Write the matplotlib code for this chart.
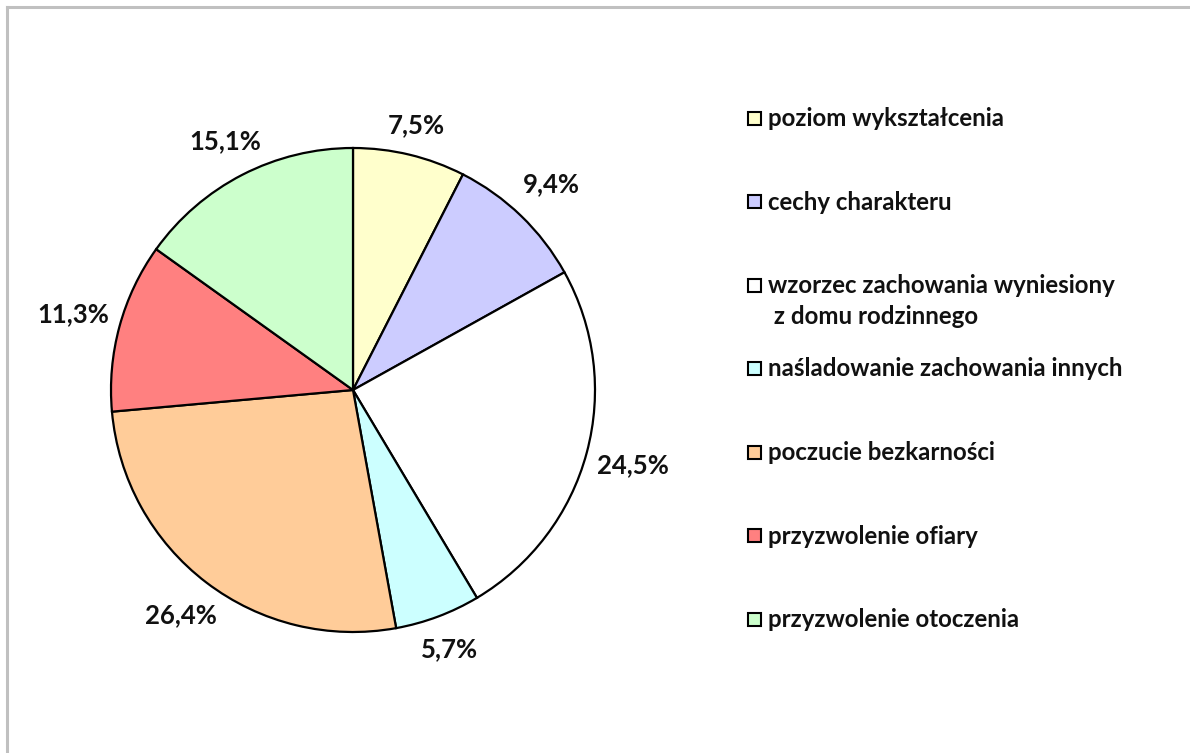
import matplotlib
matplotlib.use("Agg")
import numpy as np
import matplotlib.pyplot as plt
from matplotlib.patches import Rectangle
from matplotlib.lines import Line2D

# data
labels = [
    "poziom wykształcenia",
    "cechy charakteru",
    "wzorzec zachowania wyniesiony\n z domu rodzinnego",
    "naśladowanie zachowania innych",
    "poczucie bezkarności",
    "przyzwolenie ofiary",
    "przyzwolenie otoczenia",
]
values = [7.5, 9.4, 24.5, 5.7, 26.4, 11.3, 15.1]
colors = ["#FFFFCC", "#CCCCFF", "#FFFFFF", "#CCFFFF", "#FFCC99", "#FF8080", "#CCFFCC"]

W, H = 1190, 753
plt.rcParams['font.family'] = ['Lato', 'DejaVu Sans']

fig = plt.figure(figsize=(W / 100, H / 100), dpi=100)

# pie: centre (353, 390), radius 242 px
cx, cy, r = 353, 390, 242
ax = fig.add_axes([(cx - r) / W, (H - cy - r) / H, 2 * r / W, 2 * r / H])
wedges, texts, autotexts = ax.pie(
    values, colors=colors, startangle=90, counterclock=False,
    radius=1.0, autopct='%1.1f%%', pctdistance=1.18,
    wedgeprops=dict(edgecolor='black', linewidth=1.6),
)
# push each label out so its box sits just outside the rim (like Excel)
half_w, half_h, gap = 34 / r, 11 / r, 12 / r
for t, v, w in zip(autotexts, values, wedges):
    t.set_text(f"{v:.1f}%".replace('.', ','))
    t.set_fontsize(18.5)
    t.set_fontweight('bold')
    t.set_color('#111111')
    ang = np.deg2rad((w.theta1 + w.theta2) / 2)
    d = 1 + gap + abs(np.cos(ang)) * half_w + abs(np.sin(ang)) * half_h
    t.set_position((d * np.cos(ang), d * np.sin(ang)))
ax.set_xlim(-1, 1)
ax.set_ylim(-1, 1)
ax.set_aspect('equal')
ax.axis('off')

# legend drawn by hand so the wrapped entry keeps the even spacing
leg_x, leg_y0, leg_step, box, line_h = 748, 118, 83.5, 13, 31
for i, (lab, col) in enumerate(zip(labels, colors)):
    y = leg_y0 + i * leg_step
    fig.patches.append(Rectangle(((leg_x) / W, (H - y - box / 2) / H), box / W, box / H,
                                 transform=fig.transFigure, facecolor=col,
                                 edgecolor='black', linewidth=1.5))
    for k, line in enumerate(lab.split('\n')):
        fig.text((leg_x + 20) / W, (H - y - 8 - k * line_h) / H, line, fontsize=17.3,
                 fontweight='bold', color='#111111', va='baseline', ha='left')

# grey frame, top and left only
fig.lines.append(Line2D([7 / W, 1], [1 - 7 / H, 1 - 7 / H], transform=fig.transFigure,
                        color='#C0C0C0', linewidth=2.2))
fig.lines.append(Line2D([7 / W, 7 / W], [0, 1 - 7 / H], transform=fig.transFigure,
                        color='#C0C0C0', linewidth=2.2))

fig.savefig("out.png", dpi=100)
